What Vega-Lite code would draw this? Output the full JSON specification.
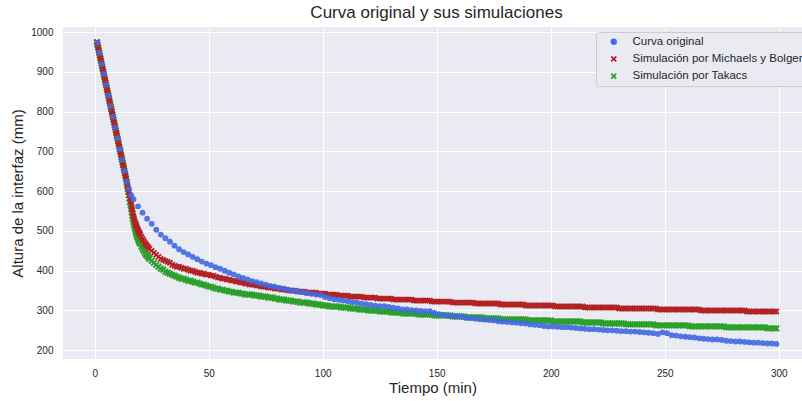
{
"$schema": "https://vega.github.io/schema/vega-lite/v6.json",
"width": 739, "height": 332,
"autosize": {"type": "none"},
"padding": {"left": 63, "top": 27, "right": 0, "bottom": 42},
"background": "white",
"config": {
 "view": {"fill": "#eaeaf2", "stroke": null},
 "font": "Liberation Sans",
 "axis": {"domain": false, "ticks": false, "tickSize": 0, "gridColor": "white", "gridWidth": 1, "gridOpacity": 1, "labelFontSize": 10, "labelColor": "#262626", "titleFontSize": 15, "titleFontWeight": "normal", "titleColor": "#262626", "labelFont": "Liberation Sans", "titleFont": "Liberation Sans"}
},
"title": {"text": "Curva original y sus simulaciones", "fontSize": 17, "fontWeight": "normal", "color": "#262626", "anchor": "middle", "dx": 4, "offset": 5, "font": "Liberation Sans"},
"datasets": {
"sim": [
{"t":1,"m":975,"k":975},{"t":1.25,"m":968.3,"k":968.3},{"t":1.5,"m":961.5,"k":961.5},{"t":1.75,"m":954.8,"k":954.8},
{"t":2,"m":948.1,"k":948.1},{"t":2.25,"m":941.4,"k":941.4},{"t":2.5,"m":934.7,"k":934.7},{"t":2.75,"m":927.9,"k":927.9},
{"t":3,"m":921.2,"k":921.2},{"t":3.25,"m":914.5,"k":914.5},{"t":3.5,"m":907.8,"k":907.8},{"t":3.75,"m":901,"k":901},
{"t":4,"m":894.3,"k":894.3},{"t":4.25,"m":887.6,"k":887.6},{"t":4.5,"m":880.9,"k":880.9},{"t":4.75,"m":874.1,"k":874.1},
{"t":5,"m":867.4,"k":867.4},{"t":5.25,"m":860.7,"k":860.7},{"t":5.5,"m":854,"k":854},{"t":5.75,"m":847.3,"k":847.3},
{"t":6,"m":840.5,"k":840.5},{"t":6.25,"m":833.8,"k":833.8},{"t":6.5,"m":827.1,"k":827.1},{"t":6.75,"m":820.4,"k":820.4},
{"t":7,"m":813.6,"k":813.6},{"t":7.25,"m":806.9,"k":806.9},{"t":7.5,"m":800.2,"k":800.2},{"t":7.75,"m":793.5,"k":793.5},
{"t":8,"m":786.7,"k":786.7},{"t":8.25,"m":780,"k":780},{"t":8.5,"m":773.3,"k":773.3},{"t":8.75,"m":766.6,"k":766.6},
{"t":9,"m":759.8,"k":759.8},{"t":9.25,"m":753.1,"k":753.1},{"t":9.5,"m":746.4,"k":746.4},{"t":9.75,"m":739.7,"k":739.7},
{"t":10,"m":732.9,"k":732.9},{"t":10.25,"m":726.2,"k":726.2},{"t":10.5,"m":719.5,"k":719.5},{"t":10.75,"m":712.8,"k":712.8},
{"t":11,"m":706,"k":706},{"t":11.25,"m":699.3,"k":699.3},{"t":11.5,"m":692.6,"k":692.6},{"t":11.75,"m":685.9,"k":685.9},
{"t":12,"m":679.2,"k":679.2},{"t":12.25,"m":672.4,"k":672.4},{"t":12.5,"m":665.7,"k":665.7},{"t":12.75,"m":659,"k":659},
{"t":13,"m":652.3,"k":652.3},{"t":13.25,"m":645.5,"k":645.5},{"t":13.5,"m":638.8,"k":638.8},{"t":13.75,"m":632.1,"k":632.1},
{"t":14,"m":625.4,"k":623},{"t":14.25,"m":618,"k":614},{"t":14.5,"m":611,"k":606},{"t":14.75,"m":604,"k":598},
{"t":15,"m":597.5,"k":590},{"t":15.25,"m":590,"k":581},{"t":15.5,"m":582.5,"k":572},{"t":15.75,"m":575,"k":563.5},
{"t":16,"m":567.5,"k":555},{"t":16.25,"m":560,"k":546.5},{"t":16.5,"m":552.5,"k":538},{"t":16.75,"m":545,"k":530},
{"t":17,"m":537.5,"k":522.5},{"t":17.25,"m":532,"k":515.5},{"t":17.5,"m":526,"k":509},{"t":17.75,"m":521,"k":503},
{"t":18,"m":517.5,"k":497.5},{"t":18.25,"m":513.5,"k":492.5},{"t":18.5,"m":509.5,"k":488},{"t":18.75,"m":506,"k":484},
{"t":19,"m":502.5,"k":480},{"t":19.25,"m":499,"k":476.5},{"t":19.5,"m":496,"k":473},{"t":19.75,"m":493,"k":470},
{"t":20,"m":490,"k":467.5},{"t":20.5,"m":485,"k":461},
{"t":21,"m":480,"k":455},{"t":21.5,"m":475,"k":450},{"t":22,"m":470,"k":445},{"t":22.5,"m":466,"k":441},{"t":23,"m":462.5,"k":437.5},{"t":23.5,"m":459,"k":434},{"t":24,"m":455,"k":430},{"t":25,"m":450,"k":425},
{"t":26,"m":445,"k":420},{"t":27,"m":440,"k":415},{"t":28,"m":435,"k":410},{"t":29,"m":430,"k":405},{"t":30,"m":427.5,"k":402.5},
{"t":31,"m":425,"k":397.5},{"t":32,"m":422.5,"k":395},{"t":33,"m":420,"k":392.5},{"t":34,"m":415,"k":390},{"t":35,"m":412.5,"k":387.5},
{"t":36,"m":410,"k":385},{"t":37,"m":410,"k":382.5},{"t":38,"m":407.5,"k":380},{"t":39,"m":405,"k":380},{"t":40,"m":405,"k":377.5},
{"t":41,"m":402.5,"k":375},{"t":42,"m":400,"k":375},{"t":43,"m":400,"k":372.5},{"t":44,"m":397.5,"k":370},{"t":45,"m":395,"k":370},
{"t":46,"m":395,"k":367.5},{"t":47,"m":392.5,"k":365},{"t":48,"m":392.5,"k":365},{"t":49,"m":390,"k":362.5},{"t":50,"m":390,"k":360},
{"t":51,"m":387.5,"k":360},{"t":52,"m":387.5,"k":357.5},{"t":53,"m":385,"k":355},{"t":54,"m":382.5,"k":355},{"t":55,"m":382.5,"k":352.5},
{"t":56,"m":380,"k":352.5},{"t":57,"m":380,"k":350},{"t":58,"m":377.5,"k":350},{"t":59,"m":377.5,"k":347.5},{"t":60,"m":375,"k":347.5},
{"t":61,"m":375,"k":345},{"t":62,"m":372.5,"k":345},{"t":63,"m":372.5,"k":345},{"t":64,"m":370,"k":342.5},{"t":65,"m":370,"k":342.5},
{"t":66,"m":367.5,"k":340},{"t":67,"m":367.5,"k":340},{"t":68,"m":365,"k":340},{"t":69,"m":365,"k":340},{"t":70,"m":365,"k":337.5},
{"t":71,"m":362.5,"k":337.5},{"t":72,"m":362.5,"k":337.5},{"t":73,"m":360,"k":335},{"t":74,"m":360,"k":335},{"t":75,"m":360,"k":335},
{"t":76,"m":357.5,"k":332.5},{"t":77,"m":357.5,"k":332.5},{"t":78,"m":357.5,"k":332.5},{"t":79,"m":355,"k":330},{"t":80,"m":355,"k":330},
{"t":81,"m":355,"k":327.5},{"t":82,"m":352.5,"k":327.5},{"t":83,"m":352.5,"k":327.5},{"t":84,"m":352.5,"k":325},{"t":85,"m":350,"k":325},
{"t":86,"m":350,"k":325},{"t":87,"m":350,"k":322.5},{"t":88,"m":350,"k":322.5},{"t":89,"m":347.5,"k":322.5},{"t":90,"m":347.5,"k":320},
{"t":91,"m":347.5,"k":320},{"t":92,"m":347.5,"k":320},{"t":93,"m":345,"k":320},{"t":94,"m":345,"k":317.5},{"t":95,"m":345,"k":317.5},
{"t":96,"m":345,"k":317.5},{"t":97,"m":345,"k":315},{"t":98,"m":342.5,"k":315},{"t":99,"m":342.5,"k":315},{"t":100,"m":342.5,"k":312.5},
{"t":101,"m":342.5,"k":312.5},{"t":102,"m":340,"k":312.5},{"t":103,"m":340,"k":310},{"t":104,"m":340,"k":310},{"t":105,"m":340,"k":310},
{"t":106,"m":340,"k":310},{"t":107,"m":337.5,"k":310},{"t":108,"m":337.5,"k":307.5},{"t":109,"m":337.5,"k":307.5},{"t":110,"m":337.5,"k":307.5},
{"t":111,"m":337.5,"k":307.5},{"t":112,"m":335,"k":305},{"t":113,"m":335,"k":305},{"t":114,"m":335,"k":305},{"t":115,"m":335,"k":305},
{"t":116,"m":335,"k":302.5},{"t":117,"m":335,"k":302.5},{"t":118,"m":332.5,"k":302.5},{"t":119,"m":332.5,"k":302.5},{"t":120,"m":332.5,"k":300},
{"t":121,"m":332.5,"k":300},{"t":122,"m":332.5,"k":300},{"t":123,"m":332.5,"k":300},{"t":124,"m":330,"k":300},{"t":125,"m":330,"k":297.5},
{"t":126,"m":330,"k":297.5},{"t":127,"m":330,"k":297.5},{"t":128,"m":330,"k":297.5},{"t":129,"m":330,"k":297.5},{"t":130,"m":330,"k":295},
{"t":131,"m":327.5,"k":295},{"t":132,"m":327.5,"k":295},{"t":133,"m":327.5,"k":295},{"t":134,"m":327.5,"k":295},{"t":135,"m":327.5,"k":292.5},
{"t":136,"m":327.5,"k":292.5},{"t":137,"m":327.5,"k":292.5},{"t":138,"m":327.5,"k":292.5},{"t":139,"m":327.5,"k":292.5},{"t":140,"m":325,"k":292.5},
{"t":141,"m":325,"k":292.5},{"t":142,"m":325,"k":290},{"t":143,"m":325,"k":290},{"t":144,"m":325,"k":290},{"t":145,"m":325,"k":290},
{"t":146,"m":325,"k":290},{"t":147,"m":325,"k":290},{"t":148,"m":322.5,"k":290},{"t":149,"m":322.5,"k":287.5},{"t":150,"m":322.5,"k":287.5},
{"t":151,"m":322.5,"k":287.5},{"t":152,"m":322.5,"k":287.5},{"t":153,"m":322.5,"k":287.5},{"t":154,"m":322.5,"k":287.5},{"t":155,"m":322.5,"k":287.5},
{"t":156,"m":322.5,"k":287.5},{"t":157,"m":320,"k":285},{"t":158,"m":320,"k":285},{"t":159,"m":320,"k":285},{"t":160,"m":320,"k":285},
{"t":161,"m":320,"k":285},{"t":162,"m":320,"k":285},{"t":163,"m":320,"k":282.5},{"t":164,"m":320,"k":282.5},{"t":165,"m":320,"k":282.5},
{"t":166,"m":320,"k":282.5},{"t":167,"m":317.5,"k":282.5},{"t":168,"m":317.5,"k":282.5},{"t":169,"m":317.5,"k":282.5},{"t":170,"m":317.5,"k":282.5},
{"t":171,"m":317.5,"k":280},{"t":172,"m":317.5,"k":280},{"t":173,"m":317.5,"k":280},{"t":174,"m":317.5,"k":280},{"t":175,"m":317.5,"k":280},
{"t":176,"m":317.5,"k":280},{"t":177,"m":317.5,"k":280},{"t":178,"m":315,"k":277.5},{"t":179,"m":315,"k":277.5},{"t":180,"m":315,"k":277.5},
{"t":181,"m":315,"k":277.5},{"t":182,"m":315,"k":277.5},{"t":183,"m":315,"k":277.5},{"t":184,"m":315,"k":277.5},{"t":185,"m":315,"k":277.5},
{"t":186,"m":315,"k":277.5},{"t":187,"m":315,"k":277.5},{"t":188,"m":315,"k":277.5},{"t":189,"m":312.5,"k":277.5},{"t":190,"m":312.5,"k":275},
{"t":191,"m":312.5,"k":275},{"t":192,"m":312.5,"k":275},{"t":193,"m":312.5,"k":275},{"t":194,"m":312.5,"k":275},{"t":195,"m":312.5,"k":275},
{"t":196,"m":312.5,"k":275},{"t":197,"m":312.5,"k":275},{"t":198,"m":312.5,"k":275},{"t":199,"m":312.5,"k":275},{"t":200,"m":312.5,"k":275},
{"t":201,"m":312.5,"k":272.5},{"t":202,"m":310,"k":272.5},{"t":203,"m":310,"k":272.5},{"t":204,"m":310,"k":272.5},{"t":205,"m":310,"k":272.5},
{"t":206,"m":310,"k":272.5},{"t":207,"m":310,"k":272.5},{"t":208,"m":310,"k":272.5},{"t":209,"m":310,"k":272.5},{"t":210,"m":310,"k":272.5},
{"t":211,"m":310,"k":272.5},{"t":212,"m":310,"k":272.5},{"t":213,"m":310,"k":272.5},{"t":214,"m":310,"k":270},{"t":215,"m":307.5,"k":270},
{"t":216,"m":307.5,"k":270},{"t":217,"m":307.5,"k":270},{"t":218,"m":307.5,"k":270},{"t":219,"m":307.5,"k":270},{"t":220,"m":307.5,"k":270},
{"t":221,"m":307.5,"k":270},{"t":222,"m":307.5,"k":270},{"t":223,"m":307.5,"k":267.5},{"t":224,"m":307.5,"k":267.5},{"t":225,"m":307.5,"k":267.5},
{"t":226,"m":307.5,"k":267.5},{"t":227,"m":307.5,"k":267.5},{"t":228,"m":307.5,"k":267.5},{"t":229,"m":307.5,"k":267.5},{"t":230,"m":305,"k":267.5},
{"t":231,"m":305,"k":267.5},{"t":232,"m":305,"k":267.5},{"t":233,"m":305,"k":265},{"t":234,"m":305,"k":265},{"t":235,"m":305,"k":265},
{"t":236,"m":305,"k":265},{"t":237,"m":305,"k":265},{"t":238,"m":305,"k":265},{"t":239,"m":305,"k":265},{"t":240,"m":305,"k":265},
{"t":241,"m":305,"k":265},{"t":242,"m":305,"k":265},{"t":243,"m":305,"k":265},{"t":244,"m":305,"k":265},{"t":245,"m":305,"k":265},
{"t":246,"m":305,"k":262.5},{"t":247,"m":302.5,"k":262.5},{"t":248,"m":302.5,"k":262.5},{"t":249,"m":302.5,"k":262.5},{"t":250,"m":302.5,"k":262.5},
{"t":251,"m":302.5,"k":262.5},{"t":252,"m":302.5,"k":262.5},{"t":253,"m":302.5,"k":262.5},{"t":254,"m":302.5,"k":262.5},{"t":255,"m":302.5,"k":262.5},
{"t":256,"m":302.5,"k":262.5},{"t":257,"m":302.5,"k":262.5},{"t":258,"m":302.5,"k":262.5},{"t":259,"m":302.5,"k":262.5},{"t":260,"m":302.5,"k":262.5},
{"t":261,"m":302.5,"k":260},{"t":262,"m":302.5,"k":260},{"t":263,"m":302.5,"k":260},{"t":264,"m":302.5,"k":260},{"t":265,"m":302.5,"k":260},
{"t":266,"m":300,"k":260},{"t":267,"m":300,"k":260},{"t":268,"m":300,"k":260},{"t":269,"m":300,"k":260},{"t":270,"m":300,"k":260},
{"t":271,"m":300,"k":260},{"t":272,"m":300,"k":260},{"t":273,"m":300,"k":260},{"t":274,"m":300,"k":260},{"t":275,"m":300,"k":260},
{"t":276,"m":300,"k":260},{"t":277,"m":300,"k":257.5},{"t":278,"m":300,"k":257.5},{"t":279,"m":300,"k":257.5},{"t":280,"m":300,"k":257.5},
{"t":281,"m":300,"k":257.5},{"t":282,"m":300,"k":257.5},{"t":283,"m":300,"k":257.5},{"t":284,"m":300,"k":257.5},{"t":285,"m":300,"k":257.5},
{"t":286,"m":297.5,"k":257.5},{"t":287,"m":297.5,"k":257.5},{"t":288,"m":297.5,"k":257.5},{"t":289,"m":297.5,"k":257.5},{"t":290,"m":297.5,"k":257.5},
{"t":291,"m":297.5,"k":257.5},{"t":292,"m":297.5,"k":257.5},{"t":293,"m":297.5,"k":257.5},{"t":294,"m":297.5,"k":257.5},{"t":295,"m":297.5,"k":255},
{"t":296,"m":297.5,"k":255},{"t":297,"m":297.5,"k":255},{"t":298,"m":297.5,"k":255},{"t":299,"m":297.5,"k":255}
],
"orig": [
{"t":1,"h":973},{"t":2,"h":948},{"t":3,"h":920},{"t":4,"h":895},{"t":5,"h":868},{"t":6,"h":841},{"t":7,"h":814},{"t":8,"h":787},
{"t":9,"h":760},{"t":10,"h":733},{"t":11,"h":706},{"t":12,"h":679},{"t":13,"h":651},{"t":14,"h":624},{"t":15,"h":606},{"t":16,"h":590},
{"t":17,"h":580},{"t":19,"h":562},{"t":21,"h":546},{"t":23,"h":531},{"t":25,"h":518},{"t":27,"h":503},{"t":29,"h":491},{"t":31,"h":482},
{"t":33,"h":473},{"t":35,"h":463},{"t":37,"h":454},{"t":39,"h":447},{"t":41,"h":441},{"t":43,"h":435},{"t":45,"h":429},{"t":47,"h":423},
{"t":49,"h":418},{"t":51,"h":414},{"t":53,"h":409},{"t":55,"h":405},{"t":57,"h":400},{"t":59,"h":395},{"t":61,"h":391},{"t":63,"h":386},
{"t":65,"h":382},{"t":67,"h":378},{"t":69,"h":374},{"t":71,"h":371},{"t":73,"h":368},{"t":75,"h":365},{"t":77,"h":362},{"t":79,"h":360},
{"t":81,"h":357},{"t":83,"h":355},{"t":85,"h":352},{"t":87,"h":350},{"t":89,"h":348},{"t":91,"h":346},{"t":93,"h":344},{"t":95,"h":342},
{"t":97,"h":340},{"t":99,"h":339},{"t":101,"h":334},{"t":103,"h":331},{"t":105,"h":328},{"t":107,"h":327},{"t":109,"h":325},{"t":111,"h":323},
{"t":113,"h":321},{"t":115,"h":320},{"t":117,"h":317},{"t":119,"h":316},{"t":121,"h":314},{"t":123,"h":312},{"t":125,"h":311},{"t":127,"h":311},
{"t":129,"h":309},{"t":131,"h":307},{"t":133,"h":305},{"t":135,"h":303},{"t":137,"h":303},{"t":139,"h":301},{"t":141,"h":300},{"t":143,"h":299},
{"t":145,"h":298},{"t":147,"h":298},{"t":149,"h":294},{"t":151,"h":291},{"t":153,"h":289},{"t":155,"h":287},{"t":157,"h":286},{"t":159,"h":285},
{"t":161,"h":284},{"t":163,"h":282},{"t":165,"h":281},{"t":167,"h":279},{"t":169,"h":278},{"t":171,"h":277},{"t":173,"h":276},{"t":175,"h":275},
{"t":177,"h":273},{"t":179,"h":272},{"t":181,"h":271},{"t":183,"h":270},{"t":185,"h":269},{"t":187,"h":268},{"t":189,"h":267},{"t":191,"h":265},
{"t":193,"h":264},{"t":195,"h":263},{"t":197,"h":261},{"t":199,"h":260},{"t":201,"h":260},{"t":203,"h":259},{"t":205,"h":258},{"t":207,"h":258},
{"t":209,"h":257},{"t":211,"h":256},{"t":213,"h":255},{"t":215,"h":254},{"t":217,"h":253},{"t":219,"h":253},{"t":221,"h":252},{"t":223,"h":251},
{"t":225,"h":250},{"t":227,"h":250},{"t":229,"h":249},{"t":231,"h":248},{"t":233,"h":248},{"t":235,"h":247},{"t":237,"h":247},{"t":239,"h":246},
{"t":241,"h":245},{"t":243,"h":244},{"t":245,"h":243},{"t":247,"h":241},{"t":249,"h":245},{"t":251,"h":243},{"t":253,"h":238},{"t":255,"h":237},
{"t":257,"h":235},{"t":259,"h":234},{"t":261,"h":233},{"t":263,"h":232},{"t":265,"h":230},{"t":267,"h":229},{"t":269,"h":228},{"t":271,"h":227},
{"t":273,"h":227},{"t":275,"h":226},{"t":277,"h":224},{"t":279,"h":223},{"t":281,"h":222},{"t":283,"h":222},{"t":285,"h":221},{"t":287,"h":220},
{"t":289,"h":219},{"t":291,"h":219},{"t":293,"h":218},{"t":295,"h":217},{"t":297,"h":217},{"t":299,"h":216}
]
},
"layer": [
{
 "data": {"name": "sim"},
 "mark": {"type": "point", "filled": true, "size": 48, "opacity": 1},
 "encoding": {
  "x": {"field": "t", "type": "quantitative", "scale": {"domain": [-13.9, 310.2], "nice": false, "zero": false}, "axis": {"values": [0,50,100,150,200,250,300], "title": "Tiempo (min)", "labelPadding": 9, "titlePadding": 2, "grid": true}},
  "y": {"field": "k", "type": "quantitative", "scale": {"domain": [178, 1013], "nice": false, "zero": false}, "axis": {"values": [200,300,400,500,600,700,800,900,1000], "format": "d", "title": "Altura de la interfaz (mm)", "labelPadding": 10, "titlePadding": 5, "grid": true}},
  "color": {"datum": "Simulación por Takacs", "type": "nominal",
   "scale": {"domain": ["Curva original", "Simulación por Michaels y Bolger", "Simulación por Takacs"], "range": ["#4169e1", "#b22222", "#2ca02c"]},
   "legend": {"title": null, "orient": "none", "legendX": 533, "legendY": 5, "fillColor": "#eaeaf2", "strokeColor": "#cccccc", "cornerRadius": 3, "padding": 4, "symbolOffset": 8, "labelOffset": 13, "labelFontSize": 11.5, "labelColor": "#262626", "labelFont": "Liberation Sans", "rowPadding": 4.2, "labelLimit": 400, "symbolSize": 40, "symbolOpacity": 1}
  },
  "shape": {"datum": "Simulación por Takacs", "type": "nominal",
   "scale": {"domain": ["Curva original", "Simulación por Michaels y Bolger", "Simulación por Takacs"], "range": ["circle", "M-1,-0.6L-0.6,-1L0,-0.4L0.6,-1L1,-0.6L0.4,0L1,0.6L0.6,1L0,0.4L-0.6,1L-1,0.6L-0.4,0Z", "M-1,-0.6L-0.6,-1L0,-0.4L0.6,-1L1,-0.6L0.4,0L1,0.6L0.6,1L0,0.4L-0.6,1L-1,0.6L-0.4,0Z"]},
   "legend": {"title": null, "orient": "none", "legendX": 533, "legendY": 5, "fillColor": "#eaeaf2", "strokeColor": "#cccccc", "cornerRadius": 3, "padding": 4, "symbolOffset": 8, "labelOffset": 13, "labelFontSize": 11.5, "labelColor": "#262626", "labelFont": "Liberation Sans", "rowPadding": 4.2, "labelLimit": 400, "symbolSize": 40, "symbolOpacity": 1}
  }
 }
},
{
 "data": {"name": "sim"},
 "mark": {"type": "point", "filled": true, "size": 40, "opacity": 1},
 "encoding": {
  "x": {"field": "t", "type": "quantitative"},
  "y": {"field": "m", "type": "quantitative", "axis": {"title": "Altura de la interfaz (mm)"}},
  "color": {"datum": "Simulación por Michaels y Bolger", "type": "nominal"},
  "shape": {"datum": "Simulación por Michaels y Bolger", "type": "nominal"}
 }
},
{
 "data": {"name": "orig"},
 "mark": {"type": "point", "filled": true, "size": 34, "opacity": 0.9},
 "encoding": {
  "x": {"field": "t", "type": "quantitative"},
  "y": {"field": "h", "type": "quantitative", "axis": {"title": "Altura de la interfaz (mm)"}},
  "color": {"datum": "Curva original", "type": "nominal"},
  "shape": {"datum": "Curva original", "type": "nominal"}
 }
}
]
}
